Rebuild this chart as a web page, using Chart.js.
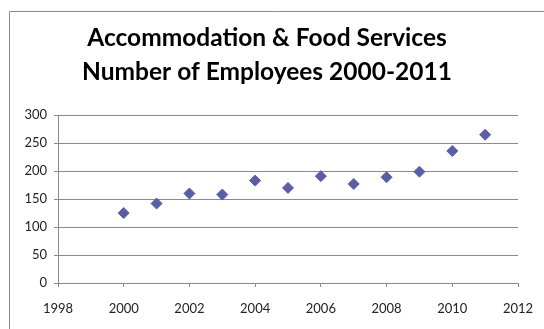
<!DOCTYPE html>
<html>
<head>
<meta charset="utf-8">
<script src="https://cdn.jsdelivr.net/npm/chart.js@4"></script>
<style>
  html, body { margin: 0; padding: 0; background: #fff; }
  #wrap { width: 544px; height: 329px; }
</style>
</head>
<body>
<div id="wrap"><canvas id="chart" width="544" height="329"></canvas></div>
<script>
// data
const years = [2000, 2001, 2002, 2003, 2004, 2005, 2006, 2007, 2008, 2009, 2010, 2011];
const employees = [125, 142, 160, 158, 183, 170, 191, 177, 189, 199, 236, 265];
const titleLines = ['Accommodation & Food Services', 'Number of Employees 2000-2011'];

const points = years.map((y, i) => ({ x: y, y: employees[i] }));

// the grey frame of the chart, cut off on the right and bottom
const framePlugin = {
    id: 'frame',
    beforeDraw(chart) {
        const ctx = chart.ctx;
        ctx.save();
        ctx.fillStyle = '#fff';
        ctx.fillRect(0, 0, chart.width, chart.height);
        ctx.strokeStyle = '#8a8a8a';
        ctx.lineWidth = 1;
        ctx.beginPath();
        ctx.moveTo(9.5, chart.height + 5);
        ctx.lineTo(9.5, 11.5);
        ctx.lineTo(chart.width + 5, 11.5);
        ctx.stroke();
        ctx.restore();
    }
};

const ctx = document.getElementById('chart').getContext('2d');
new Chart(ctx, {
    type: 'scatter',
    data: {
        datasets: [{
            data: points,
            pointStyle: 'rectRot',
            pointRadius: 5.5,
            pointHoverRadius: 5.5,
            backgroundColor: '#5b5ea6',
            borderColor: '#5b5ea6',
            borderWidth: 1
        }]
    },
    options: {
        responsive: false,
        animation: false,
        layout: { padding: { top: 11, right: 26, left: 16, bottom: 0 } },
        plugins: {
            legend: { display: false },
            tooltip: { enabled: false },
            title: {
                display: true,
                text: titleLines,
                color: '#000',
                font: { family: 'Lato', size: 24.5, weight: 'bold', lineHeight: 1.35 },
                padding: { top: 11, bottom: 27 }
            }
        },
        scales: {
            x: {
                type: 'linear',
                min: 1998,
                max: 2012,
                afterFit(scale) {
                    scale.height = 46;
                    scale.paddingLeft = 0;
                    scale.paddingRight = 0;
                },
                ticks: {
                    stepSize: 2,
                    color: '#222',
                    padding: 14,
                    font: { family: 'Lato', size: 13 },
                    callback: v => String(v)
                },
                grid: { drawOnChartArea: false, drawTicks: true, tickLength: 4, color: '#8a8a8a' },
                border: { color: '#8a8a8a' }
            },
            y: {
                min: 0,
                max: 300,
                afterFit(scale) {
                    scale.width = 42;
                    scale.paddingTop = 0;
                    scale.paddingBottom = 0;
                },
                ticks: {
                    stepSize: 50,
                    color: '#222',
                    padding: 7,
                    font: { family: 'Lato', size: 13 }
                },
                grid: { color: '#8a8a8a', tickLength: 4 },
                border: { color: '#8a8a8a' }
            }
        }
    },
    plugins: [framePlugin]
});
</script>
</body>
</html>
